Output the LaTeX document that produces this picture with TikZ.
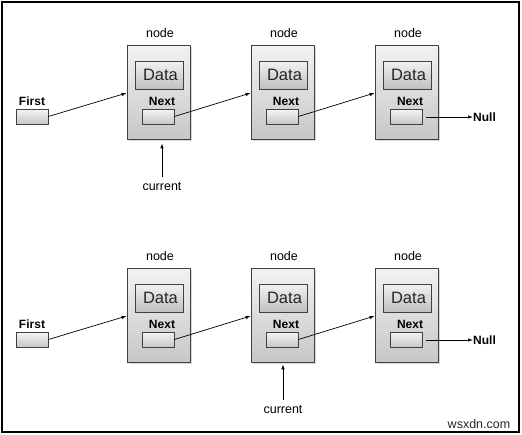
\documentclass[tikz,border=0pt]{standalone}
\usepackage{fontspec}
\setmainfont{Liberation Sans}
\usetikzlibrary{arrows.meta,shadows}
\begin{document}
\begin{tikzpicture}[x=1pt,y=-1pt,
  frame/.style={draw=black,line width=1.2pt},
  llnode/.style={draw=black!75,line width=0.8pt,rectangle,inner sep=0,minimum width=63pt,minimum height=94pt,top color=black!5,bottom color=black!22,
    drop shadow={shadow xshift=1.5pt,shadow yshift=-1.5pt,fill=black!30,opacity=0.5}},
  databox/.style={draw=black!75,line width=0.8pt,rectangle,inner sep=0,minimum width=48pt,minimum height=28pt,top color=black!5,bottom color=black!25,
    font=\fontsize{16.5}{17}\selectfont,text=black!85},
  ptrbox/.style={draw=black!75,line width=0.8pt,rectangle,inner sep=0,minimum width=32pt,minimum height=15pt,top color=black!4,bottom color=black!22},
  lbl/.style={font=\fontsize{12.5}{14}\selectfont,inner sep=0},
  blbl/.style={font=\bfseries\fontsize{12}{14}\selectfont,inner sep=0},
  link/.style={-{Latex[length=5pt,width=3.5pt]},line width=0.7pt}
]
\useasboundingbox (0,0) rectangle (522,434);
\draw[frame] (2,2) rectangle (519,432);

\foreach \r/\dy in {a/0,b/223}{
  % head pointer
  \node[blbl] (first-\r) at (32,101+\dy) {First};
  \node[ptrbox] (fb-\r) at (32,116.5+\dy) {};
  \foreach \c/\dx in {1/0,2/124,3/248}{
    \node[lbl] (lab-\r\c) at (160+\dx,33+\dy) {node};
    \node[llnode] (box-\r\c) at (158.5+\dx,92+\dy) {};
    \node[databox] (data-\r\c) at (159+\dx,75+\dy) {\hspace{3pt}Data};
    \node[blbl] (nl-\r\c) at (162+\dx,101+\dy) {Next};
    \node[ptrbox] (nb-\r\c) at (158+\dx,116.5+\dy) {};
  }
  \node[blbl,anchor=west] (null-\r) at (473,117+\dy) {Null};
  \coordinate (nstart-\r) at (426,117+\dy);
  \draw[link] (fb-\r.east) -- ([yshift=-1pt]box-\r1.west);
  \draw[link] (nb-\r1.east) -- ([yshift=-1pt]box-\r2.west);
  \draw[link] (nb-\r2.east) -- ([yshift=-1pt]box-\r3.west);
  \draw[link] (nstart-\r) -- (null-\r.west);
}

\node[lbl] (cur-a) at (162,187) {current};
\draw[link] ([yshift=6pt]cur-a.north) -- ([yshift=-4pt]box-a1.south -| cur-a.north);
\node[lbl] (cur-b) at (283,410) {current};
\draw[link] ([yshift=6pt]cur-b.north) -- ([yshift=-2pt]box-b2.south -| cur-b.north);

\node[lbl,text=black!85] (wm) at (479,424) {wsxdn.com};
\end{tikzpicture}
\end{document}
